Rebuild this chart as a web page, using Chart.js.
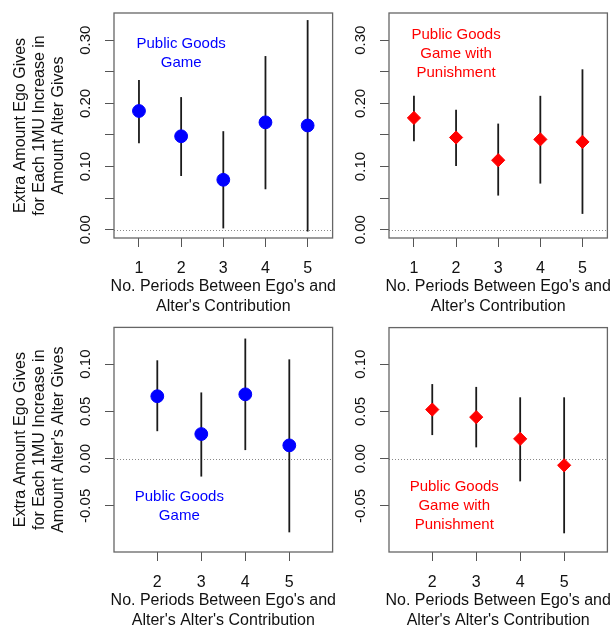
<!DOCTYPE html>
<html>
<head>
<meta charset="utf-8">
<script src="https://cdn.jsdelivr.net/npm/chart.js@4.4.1/dist/chart.umd.min.js"></script>
<style>
  body { margin: 0; background: #fff; }
  #wrap { position: relative; width: 615px; height: 627px; overflow: hidden; }
  canvas { position: absolute; }
</style>
</head>
<body>
<div id="wrap">
  <canvas id="c1" width="340" height="320" style="left:0;top:0;width:340px;height:320px"></canvas>
  <canvas id="c2" width="275" height="320" style="left:340px;top:0;width:275px;height:320px"></canvas>
  <canvas id="c3" width="340" height="307" style="left:0;top:320px;width:340px;height:307px"></canvas>
  <canvas id="c4" width="275" height="307" style="left:340px;top:320px;width:275px;height:307px"></canvas>
</div>
<script>
// periods between ego's and alter's contribution
var periodsAlter = [1, 2, 3, 4, 5];
var periodsAlterAlter = [2, 3, 4, 5];

// public goods game: estimate, lower and upper bound
var pgAlter   = [0.188, 0.148, 0.079, 0.170, 0.165];
var pgAlterLo = [0.137, 0.085, 0.002, 0.064, -0.003];
var pgAlterHi = [0.237, 0.210, 0.156, 0.275, 0.332];

// public goods game with punishment
var punAlter   = [0.177, 0.146, 0.110, 0.143, 0.139];
var punAlterLo = [0.140, 0.101, 0.054, 0.073, 0.025];
var punAlterHi = [0.212, 0.190, 0.168, 0.212, 0.254];

// alter's alter
var pgAA   = [0.066, 0.026, 0.068, 0.014];
var pgAALo = [0.029, -0.019, 0.009, -0.078];
var pgAAHi = [0.104, 0.070, 0.127, 0.105];

var punAA   = [0.052, 0.044, 0.021, -0.007];
var punAALo = [0.025, 0.012, -0.024, -0.079];
var punAAHi = [0.079, 0.076, 0.065, 0.065];

// y ticks (labels left blank where R dropped them)
var yTicksTop = [0, 0.05, 0.10, 0.15, 0.20, 0.25, 0.30];
var yLabelsTop = ['0.00', '', '0.10', '', '0.20', '', '0.30'];
var yTicksBottom = [-0.05, 0, 0.05, 0.10];
var yLabelsBottom = ['-0.05', '0.00', '0.05', '0.10'];

var FONT = '"Liberation Sans", Arial, Helvetica, sans-serif';
var BLUE = '#0000ff', RED = '#ff0000';

// draws the box, zero line, error bars and all the text R puts round a panel
var panelPlugin = {
  id: 'panel',
  beforeDatasetsDraw: function(chart) {
    var o = chart.options.plugins.panel;
    var ctx = chart.ctx, a = chart.chartArea;
    var xs = chart.scales.x, ys = chart.scales.y;
    ctx.save();
    // dotted zero line
    ctx.strokeStyle = '#888';
    ctx.lineWidth = 1;
    ctx.setLineDash([1, 2]);
    var y0 = Math.round(ys.getPixelForValue(0)) + 0.5;
    ctx.beginPath(); ctx.moveTo(a.left, y0); ctx.lineTo(a.right, y0); ctx.stroke();
    ctx.setLineDash([]);
    // error bars
    ctx.strokeStyle = '#1a1a1a';
    ctx.lineWidth = 1.8;
    o.cats.forEach(function(c, i) {
      var px = xs.getPixelForValue(c);
      ctx.beginPath();
      ctx.moveTo(px, ys.getPixelForValue(o.lo[i]));
      ctx.lineTo(px, ys.getPixelForValue(o.hi[i]));
      ctx.stroke();
    });
    ctx.restore();
  },
  afterDraw: function(chart) {
    var o = chart.options.plugins.panel;
    var ctx = chart.ctx, a = chart.chartArea;
    var xs = chart.scales.x, ys = chart.scales.y;
    ctx.save();
    // box
    ctx.strokeStyle = '#666';
    ctx.lineWidth = 1.3;
    ctx.strokeRect(a.left, a.top, a.right - a.left, a.bottom - a.top);
    // rotated y tick labels
    ctx.fillStyle = '#111';
    ctx.font = '15px ' + FONT;
    ctx.textAlign = 'center';
    ctx.textBaseline = 'middle';
    o.yTicks.forEach(function(v, i) {
      if (!o.yLabels[i]) return;
      ctx.save();
      ctx.translate(a.left - 28, ys.getPixelForValue(v));
      ctx.rotate(-Math.PI / 2);
      ctx.fillText(o.yLabels[i], 0, 0);
      ctx.restore();
    });
    // x axis title
    ctx.font = '16px ' + FONT;
    var cx = (a.left + a.right) / 2;
    ctx.fillText(o.xTitle[0], cx, a.bottom + 49);
    ctx.fillText(o.xTitle[1], cx, a.bottom + 69);
    // y axis title
    if (o.yTitle) {
      var cy = (a.top + a.bottom) / 2;
      [21, 40, 59].forEach(function(lx, i) {
        ctx.save();
        ctx.translate(lx, cy);
        ctx.rotate(-Math.PI / 2);
        ctx.fillText(o.yTitle[i], 0, 0);
        ctx.restore();
      });
    }
    // game label inside the plot
    ctx.fillStyle = o.color;
    ctx.font = '15px ' + FONT;
    var nx = xs.getPixelForValue(o.note.x), ny = ys.getPixelForValue(o.note.y);
    var n = o.note.lines.length;
    o.note.lines.forEach(function(t, i) {
      ctx.fillText(t, nx, ny + (i - (n - 1) / 2) * 19);
    });
    ctx.restore();
  }
};

function makePanel(id, cfg) {
  var ctx = document.getElementById(id).getContext('2d');
  return new Chart(ctx, {
    type: 'scatter',
    data: {
      datasets: [{
        data: cfg.cats.map(function(c, i) { return { x: c, y: cfg.vals[i] }; }),
        backgroundColor: cfg.color,
        borderColor: cfg.color,
        borderWidth: 1,
        pointStyle: cfg.marker,
        pointRadius: cfg.marker === 'circle' ? 6.4 : 6.6,
        pointHoverRadius: 6.4
      }]
    },
    options: {
      responsive: false,
      animation: false,
      devicePixelRatio: 1,
      events: [],
      layout: { padding: cfg.pad },
      plugins: {
        legend: { display: false },
        tooltip: { enabled: false },
        panel: {
          cats: cfg.cats, lo: cfg.lo, hi: cfg.hi, color: cfg.color,
          yTicks: cfg.yTicks, yLabels: cfg.yLabels,
          xTitle: cfg.xTitle, yTitle: cfg.yTitle, note: cfg.note
        }
      },
      scales: {
        x: {
          type: 'linear',
          min: cfg.xRange[0], max: cfg.xRange[1],
          afterBuildTicks: function(s) { s.ticks = cfg.cats.map(function(v) { return { value: v }; }); },
          afterFit: function(s) { s.height = cfg.xAxisH; },
          grid: { drawOnChartArea: false, drawTicks: true, tickLength: 9, color: '#555', lineWidth: 1 },
          border: { display: false },
          ticks: {
            autoSkip: false, maxRotation: 0, padding: 12, color: '#111',
            font: { family: FONT, size: 16 },
            callback: function(v) { return String(v); }
          }
        },
        y: {
          min: cfg.yRange[0], max: cfg.yRange[1],
          afterBuildTicks: function(s) { s.ticks = cfg.yTicks.map(function(v) { return { value: v }; }); },
          afterFit: function(s) { s.width = cfg.yAxisW; },
          grid: { drawOnChartArea: false, drawTicks: true, tickLength: 9, color: '#555', lineWidth: 1 },
          border: { display: false },
          ticks: { display: false }
        }
      }
    },
    plugins: [panelPlugin]
  });
}

var xTitleAlter = ["No. Periods Between Ego's and", "Alter's Contribution"];
var xTitleAA = ["No. Periods Between Ego's and", "Alter's Alter's Contribution"];
var topRange = [-0.0132, 0.3432];
var bottomRange = [-0.0988, 0.1388];

makePanel('c1', {
  cats: periodsAlter, vals: pgAlter, lo: pgAlterLo, hi: pgAlterHi,
  color: BLUE, marker: 'circle',
  xRange: [0.408, 5.592], yRange: topRange,
  yTicks: yTicksTop, yLabels: yLabelsTop,
  pad: { left: 0, top: 13, right: 5, bottom: 0 }, yAxisW: 114, xAxisH: 82,
  xTitle: xTitleAlter,
  yTitle: ['Extra Amount Ego Gives', 'for Each 1MU Increase in', 'Amount Alter Gives'],
  note: { x: 2, y: 0.279, lines: ['Public Goods', 'Game'] }
});

makePanel('c2', {
  cats: periodsAlter, vals: punAlter, lo: punAlterLo, hi: punAlterHi,
  color: RED, marker: 'rectRot',
  xRange: [0.408, 5.592], yRange: topRange,
  yTicks: yTicksTop, yLabels: yLabelsTop,
  pad: { left: 0, top: 13, right: 3, bottom: 0 }, yAxisW: 49, xAxisH: 82,
  xTitle: xTitleAlter, yTitle: null,
  note: { x: 2, y: 0.279, lines: ['Public Goods', 'Game with', 'Punishment'] }
});

makePanel('c3', {
  cats: periodsAlterAlter, vals: pgAA, lo: pgAALo, hi: pgAAHi,
  color: BLUE, marker: 'circle',
  xRange: [1.016, 5.984], yRange: bottomRange,
  yTicks: yTicksBottom, yLabels: yLabelsBottom,
  pad: { left: 0, top: 5, right: 5, bottom: 0 }, yAxisW: 114, xAxisH: 75,
  xTitle: xTitleAA,
  yTitle: ['Extra Amount Ego Gives', 'for Each 1MU Increase in', "Amount Alter's Alter Gives"],
  note: { x: 2.5, y: -0.05, lines: ['Public Goods', 'Game'] }
});

makePanel('c4', {
  cats: periodsAlterAlter, vals: punAA, lo: punAALo, hi: punAAHi,
  color: RED, marker: 'rectRot',
  xRange: [1.016, 5.984], yRange: bottomRange,
  yTicks: yTicksBottom, yLabels: yLabelsBottom,
  pad: { left: 0, top: 5, right: 3, bottom: 0 }, yAxisW: 49, xAxisH: 75,
  xTitle: xTitleAA, yTitle: null,
  note: { x: 2.5, y: -0.05, lines: ['Public Goods', 'Game with', 'Punishment'] }
});
</script>
</body>
</html>
